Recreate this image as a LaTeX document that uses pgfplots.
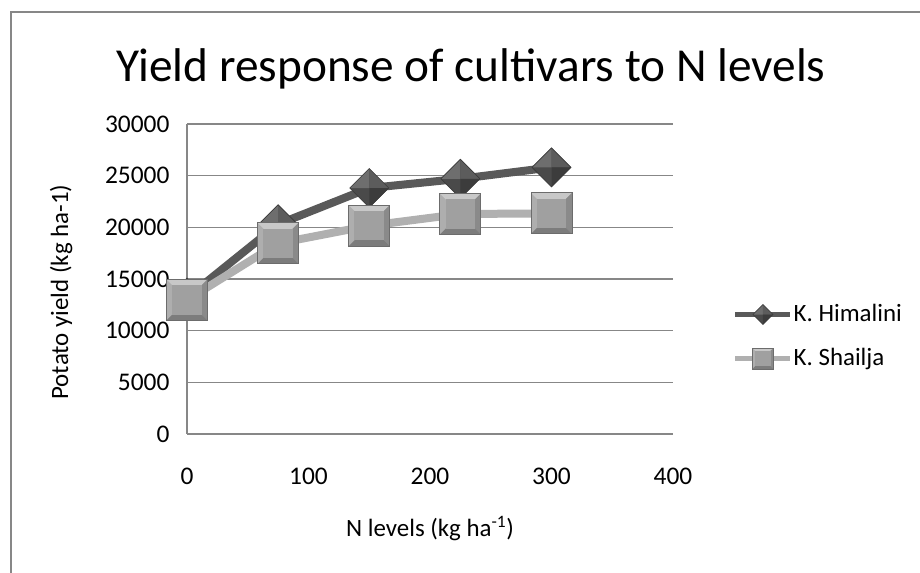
\documentclass[border=0pt]{standalone}
\usepackage{fontspec}
\setmainfont{Carlito}
\usepackage{pgfplots}
\pgfplotsset{compat=1.18}

\definecolor{himline}{HTML}{595959}
\definecolor{shaline}{HTML}{B0B0B0}
\definecolor{gridc}{HTML}{878787}
\definecolor{dmTL}{HTML}{6E6E6E}
\definecolor{dmTR}{HTML}{5C5C5C}
\definecolor{dmBL}{HTML}{4A4A4A}
\definecolor{dmBR}{HTML}{3C3C3C}
\definecolor{dmEdge}{HTML}{3A3A3A}
\definecolor{sqT}{HTML}{C8C8C8}
\definecolor{sqL}{HTML}{AEAEAE}
\definecolor{sqR}{HTML}{8A8A8A}
\definecolor{sqB}{HTML}{7C7C7C}
\definecolor{sqF}{HTML}{A0A0A0}
\definecolor{sqEdge}{HTML}{6C6C6C}

\pgfdeclareplotmark{bevdiamond}{%
  \pgfsetfillcolor{dmBL}%
  \pgfpathmoveto{\pgfpoint{-\pgfplotmarksize}{0pt}}%
  \pgfpathlineto{\pgfpoint{0pt}{\pgfplotmarksize}}%
  \pgfpathlineto{\pgfpoint{\pgfplotmarksize}{0pt}}%
  \pgfpathlineto{\pgfpoint{0pt}{-\pgfplotmarksize}}%
  \pgfpathclose\pgfusepath{fill}%
  \pgfsetfillcolor{dmTL}%
  \pgfpathmoveto{\pgfpointorigin}%
  \pgfpathlineto{\pgfpoint{-\pgfplotmarksize}{0pt}}%
  \pgfpathlineto{\pgfpoint{0pt}{\pgfplotmarksize}}%
  \pgfpathclose\pgfusepath{fill}%
  \pgfsetfillcolor{dmTR}%
  \pgfpathmoveto{\pgfpointorigin}%
  \pgfpathlineto{\pgfpoint{0pt}{\pgfplotmarksize}}%
  \pgfpathlineto{\pgfpoint{\pgfplotmarksize}{0pt}}%
  \pgfpathclose\pgfusepath{fill}%
  \pgfsetfillcolor{dmBR}%
  \pgfpathmoveto{\pgfpointorigin}%
  \pgfpathlineto{\pgfpoint{\pgfplotmarksize}{0pt}}%
  \pgfpathlineto{\pgfpoint{0pt}{-\pgfplotmarksize}}%
  \pgfpathclose\pgfusepath{fill}%
  \pgfsetstrokecolor{dmEdge}\pgfsetlinewidth{0.6bp}%
  \pgfpathmoveto{\pgfpoint{-\pgfplotmarksize}{0pt}}%
  \pgfpathlineto{\pgfpoint{0pt}{\pgfplotmarksize}}%
  \pgfpathlineto{\pgfpoint{\pgfplotmarksize}{0pt}}%
  \pgfpathlineto{\pgfpoint{0pt}{-\pgfplotmarksize}}%
  \pgfpathclose\pgfusepath{stroke}%
}

\pgfdeclareplotmark{bevsquare}{%
  \pgfsetfillcolor{sqL}%
  \pgfpathrectanglecorners{\pgfpoint{-\pgfplotmarksize}{-\pgfplotmarksize}}{\pgfpoint{\pgfplotmarksize}{\pgfplotmarksize}}%
  \pgfusepath{fill}%
  \pgfsetfillcolor{sqT}%
  \pgfpathmoveto{\pgfpointorigin}%
  \pgfpathlineto{\pgfpoint{-\pgfplotmarksize}{\pgfplotmarksize}}%
  \pgfpathlineto{\pgfpoint{\pgfplotmarksize}{\pgfplotmarksize}}%
  \pgfpathclose\pgfusepath{fill}%
  \pgfsetfillcolor{sqR}%
  \pgfpathmoveto{\pgfpointorigin}%
  \pgfpathlineto{\pgfpoint{\pgfplotmarksize}{\pgfplotmarksize}}%
  \pgfpathlineto{\pgfpoint{\pgfplotmarksize}{-\pgfplotmarksize}}%
  \pgfpathclose\pgfusepath{fill}%
  \pgfsetfillcolor{sqB}%
  \pgfpathmoveto{\pgfpointorigin}%
  \pgfpathlineto{\pgfpoint{\pgfplotmarksize}{-\pgfplotmarksize}}%
  \pgfpathlineto{\pgfpoint{-\pgfplotmarksize}{-\pgfplotmarksize}}%
  \pgfpathclose\pgfusepath{fill}%
  \pgfsetfillcolor{sqF}%
  \pgfpathrectanglecorners{\pgfpoint{-0.72\pgfplotmarksize}{-0.72\pgfplotmarksize}}{\pgfpoint{0.72\pgfplotmarksize}{0.72\pgfplotmarksize}}%
  \pgfusepath{fill}%
  \pgfsetstrokecolor{sqEdge}\pgfsetlinewidth{0.8bp}%
  \pgfpathrectanglecorners{\pgfpoint{-\pgfplotmarksize}{-\pgfplotmarksize}}{\pgfpoint{\pgfplotmarksize}{\pgfplotmarksize}}%
  \pgfusepath{stroke}%
}

\begin{document}
\begin{tikzpicture}
\useasboundingbox (0,0) rectangle (920bp,573bp);
\fill[white] (0,0) rectangle (920bp,573bp);
\draw[gridc, line width=2bp] (11bp,-10bp) -- (11bp,561bp) -- (935bp,561bp);
\begin{axis}[
  at={(187bp,139bp)}, anchor=south west,
  scale only axis, width=486bp, height=310bp,
  xmin=0, xmax=400, ymin=0, ymax=30000,
  xtick={0,100,200,300,400},
  ytick={0,5000,10000,15000,20000,25000,30000},
  scaled y ticks=false,
  /pgf/number format/1000 sep={},
  /pgf/number format/assume math mode=true,
  axis lines*=left,
  axis line style={gridc, line width=1.5bp},
  ymajorgrids,
  major grid style={gridc, line width=1.5bp},
  tick style={draw=none},
  ticklabel style={font=\fontsize{25.5}{30}\selectfont, text=black},
  xticklabel style={yshift=-30bp},
  yticklabel style={xshift=-14bp},
  clip=false,
  title={Yield response of cultivars to N levels},
  title style={at={(0.584,1.118)}, anchor=base, font=\fontsize{47.5}{56}\selectfont},
  xlabel={N levels (kg ha\textsuperscript{-1})},
  xlabel style={at={(0.5,-0.332)}, anchor=base, font=\fontsize{25}{30}\selectfont},
  ylabel={Potato yield (kg ha-1)},
  ylabel style={at={(-0.259,0.458)}, anchor=center, font=\fontsize{25}{30}\selectfont},
  legend style={at={(1.1235,0.3145)}, anchor=west, draw=none, fill=none,
    inner sep=0pt, row sep=19bp, font=\fontsize{25}{30}\selectfont,
    nodes={inner sep=1bp, text height=18bp, text depth=5bp}},
  legend cell align=left,
]
\addplot[himline, line width=8bp, mark=bevdiamond, mark size=19.5bp,
  mark options={solid},
  legend image code/.code={%
    \draw[himline, line width=4.5bp] (0bp,0bp) -- (55bp,0bp);
    \draw plot[only marks, mark=bevdiamond, mark size=10bp] coordinates {(27.5bp,0bp)};}]
  coordinates {(0,13200) (75,20300) (150,23800) (225,24700) (300,25800)};
\addlegendentry{K. Himalini}
\addplot[shaline, line width=8bp, mark=bevsquare, mark size=20.5bp,
  mark options={solid},
  legend image code/.code={%
    \draw[shaline, line width=4.5bp] (0bp,0bp) -- (55bp,0bp);
    \draw plot[only marks, mark=bevsquare, mark size=10.5bp] coordinates {(27.5bp,0bp)};}]
  coordinates {(0,12970) (75,18450) (150,20160) (225,21290) (300,21350)};
\addlegendentry{K. Shailja}
\end{axis}
\end{tikzpicture}
\end{document}
